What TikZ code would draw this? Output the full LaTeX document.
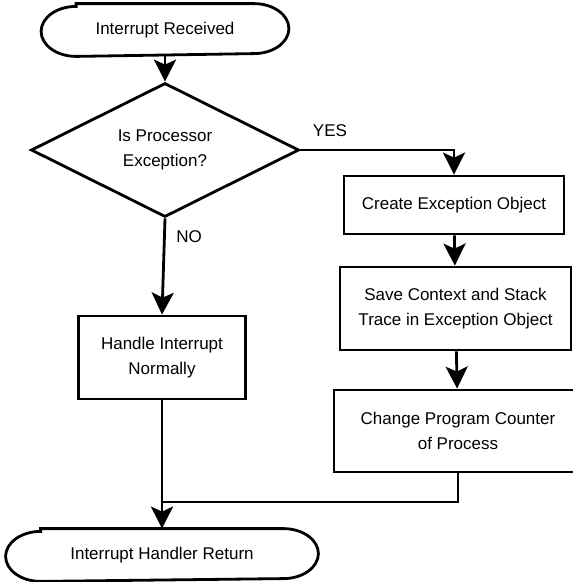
\documentclass[tikz,border=0pt]{standalone}
\usepackage{fontspec}
\setmainfont{Liberation Sans}
\usetikzlibrary{shapes.geometric,arrows.meta}
\tikzset{
  every node/.style={font=\fontsize{17}{25}\selectfont, align=center},
  term/.style={rectangle, minimum height=50pt, inner sep=0pt},
  proc/.style={draw, rectangle, inner sep=0pt},
  decide/.style={draw, diamond, aspect=2, minimum width=268pt, minimum height=134pt, inner sep=0pt},
  flow/.style={-{Stealth[length=22pt,width=22pt,inset=5pt]}},
  ends/.style={x radius=35pt, y radius=25pt},
}
\begin{document}
\begin{tikzpicture}[x=1pt,y=-1pt,line width=2.8pt]
  \useasboundingbox (0,0) rectangle (573,582);
  \node[term, minimum width=245pt] (start) at (165,30) {Interrupt Received};
  \node[decide] (check) at (165,150) {Is Processor\\Exception?};
  \node (yes) at (330,131) {YES};
  \node (no) at (189,237) {NO};
  \node[proc, minimum width=220pt, minimum height=58pt] (create) at (454,205) {Create Exception Object};
  \node[proc, minimum width=231pt, minimum height=83pt] (save) at (455.5,308.5) {Save Context and Stack\\Trace in Exception Object};
  \node[proc, minimum width=248pt, minimum height=82pt] (change) at (458,431) {Change Program Counter\\of Process};
  \node[proc, minimum width=167pt, minimum height=83pt] (handle) at (162,357.5) {Handle Interrupt\\Normally};
  \node[term, minimum width=310pt] (ret) at (162,555) {Interrupt Handler Return};
  \coordinate (join) at (162,502);
  % terminal outlines, elliptic ends
  \draw ([xshift=35pt]start.north west) -- ([xshift=-35pt]start.north east)
    arc[ends, start angle=90, end angle=-90] -- ([xshift=35pt]start.south west)
    arc[ends, start angle=270, end angle=90] -- cycle;
  \draw ([xshift=35pt]ret.north west) -- ([xshift=-35pt]ret.north east)
    arc[ends, start angle=90, end angle=-90] -- ([xshift=35pt]ret.south west)
    arc[ends, start angle=270, end angle=90] -- cycle;
  \draw [flow] (start) -- (check);
  \draw [flow] (check.east) -| (create.north);
  \draw [flow] (check.south) -- (handle.north);
  \draw [flow] (create) -- (save);
  \draw [flow] (save) -- (change);
  \draw [flow] (handle) -- (ret);
  \draw (change.south) |- (join);
\end{tikzpicture}
\end{document}
